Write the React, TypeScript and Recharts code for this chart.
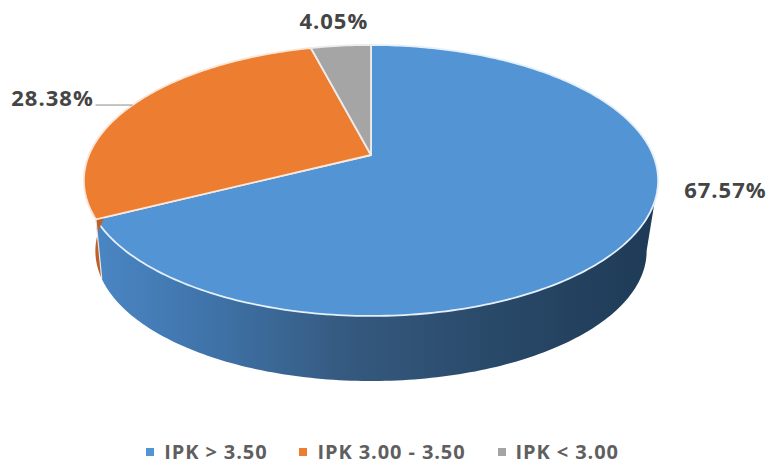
import React from "react";
import { PieChart, Pie, Legend } from "recharts";

const categories = ["IPK > 3.50", "IPK 3.00 - 3.50", "IPK < 3.00"];
const counts = [50, 21, 3];
const colors = ["#5394d5", "#ed7d31", "#a5a5a5"];
const strokes = ["#e4f0fb", "#fbe6d8", "#ececec"];
const tableData = categories.map((name, i) => ({ name, value: counts[i], fill: colors[i] }));

// layout of the tilted disc (perspective projection of a circle)
const W = 771, H = 465;
const AX = 371, AY = 155;            // apex on the page
const SX = 282, SY = 130.7, K = -0.188; // projective scale
const BOTTOM_S = 0.96, BOTTOM_Y = 226.5; // lower rim
const FRONT_FROM = 100.8, FRONT_TO = 259.2; // silhouette, clockwise degrees from 12 o'clock
const WALL_SKEW = 4;
const labelOffsets = [[88, -42], [-80, -8], [-7, -26]];

const rim = (deg: number, s = 1, ay = AY): [number, number] => {
  const r = (deg * Math.PI) / 180;
  const u = Math.sin(r), v = -Math.cos(r);
  const w = 1 + K * v;
  return [AX + (s * SX * u) / w, ay + (s * SY * v) / w];
};
const arc = (a: number, b: number, s = 1, ay = AY) => {
  const n = Math.max(2, Math.ceil(Math.abs(b - a)));
  const pts: string[] = [];
  for (let i = 0; i <= n; i++) {
    const p = rim(a + ((b - a) * i) / n, s, ay);
    pts.push(`${p[0].toFixed(2)} ${p[1].toFixed(2)}`);
  }
  return pts;
};

const Slice = (props: any) => {
  const a = 90 - props.startAngle;
  const b = 90 - props.endAngle;
  const i = colors.indexOf(props.fill);
  const top = arc(a, b);
  let wall = null;
  if (i === 0) {
    const wa = Math.max(a, FRONT_FROM);
    wall = (
      <path
        d={`M${arc(wa, b).join(" L")} L${arc(b + WALL_SKEW, wa, BOTTOM_S, BOTTOM_Y).join(" L")} Z`}
        fill="url(#wallBlue)"
      />
    );
  } else if (i === 1) {
    const wb = FRONT_TO + 25;
    const s0 = rim(a);
    const s1 = rim(a + WALL_SKEW, BOTTOM_S, BOTTOM_Y);
    wall = (
      <g>
        <path
          d={`M${arc(a, wb).join(" L")} L${arc(wb, a + WALL_SKEW, BOTTOM_S, BOTTOM_Y).join(" L")} Z`}
          fill="#bd6128"
        />
        <line x1={s0[0]} y1={s0[1]} x2={s1[0]} y2={s1[1]} stroke="#dfe6ee" strokeWidth={1.2} />
      </g>
    );
  }
  return (
    <g>
      {wall}
      <path
        d={`M${AX} ${AY} L${top.join(" L")} Z`}
        fill={props.fill}
        stroke={strokes[i]}
        strokeWidth={1.8}
        strokeLinejoin="round"
      />
    </g>
  );
};

const PctLabel = (props: any) => {
  const i = props.index;
  const p = rim(90 - props.midAngle);
  const o = labelOffsets[i];
  return (
    <g>
      {i === 1 && <line x1={p[0] - 37} y1={p[1]} x2={p[0]} y2={p[1]} stroke="#8c8c8c" strokeWidth={1} />}
      <text
        x={p[0] + o[0]}
        y={p[1] + o[1]}
        textAnchor="middle"
        dominantBaseline="central"
        fontFamily="'Open Sans', sans-serif"
        fontWeight={700}
        fontSize={22}
        letterSpacing={1}
        fill="#454545"
      >
        {(props.percent * 100).toFixed(2)}%
      </text>
    </g>
  );
};

const LegendRow = (props: any) => {
  const items = props.payload || [];
  return (
    <div style={{ display: "flex", justifyContent: "center", alignItems: "center", gap: 32, paddingRight: 6 }}>
      {items.map((it: any) => (
        <span key={it.value} style={{ display: "inline-flex", alignItems: "center", gap: 10 }}>
          <span style={{ width: 8, height: 8, background: it.color, display: "inline-block" }} />
          <span style={{ fontFamily: "'Open Sans', sans-serif", fontWeight: 700, fontSize: 20, letterSpacing: 0.9, color: "#5f5f5f", whiteSpace: "pre", lineHeight: "26px" }}>
            {it.value}
          </span>
        </span>
      ))}
    </div>
  );
};

export default function App() {
  return (
    <div style={{ position: "absolute", left: 0, top: 0, width: W, height: H, background: "#fff" }}>
      <PieChart width={W} height={H} margin={{ top: 0, right: 0, bottom: 0, left: 0 }}>
        <defs>
          <linearGradient id="wallBlue" gradientUnits="userSpaceOnUse" x1={95} y1={0} x2={655} y2={0}>
            <stop offset="0" stopColor="#4a86c4" />
            <stop offset="0.2" stopColor="#3f74aa" />
            <stop offset="0.45" stopColor="#35597f" />
            <stop offset="0.7" stopColor="#2a4a6a" />
            <stop offset="1" stopColor="#1e3a56" />
          </linearGradient>
        </defs>
        <Pie
          data={tableData}
          dataKey="value"
          nameKey="name"
          cx={AX}
          cy={AY}
          outerRadius={SX}
          startAngle={90}
          endAngle={-270}
          isAnimationActive={false}
          shape={Slice}
          label={PctLabel}
          labelLine={false}
        />
        <Legend content={LegendRow} itemSorter={null} verticalAlign="bottom" wrapperStyle={{ left: 0, width: W, top: 439 }} />
      </PieChart>
    </div>
  );
}
